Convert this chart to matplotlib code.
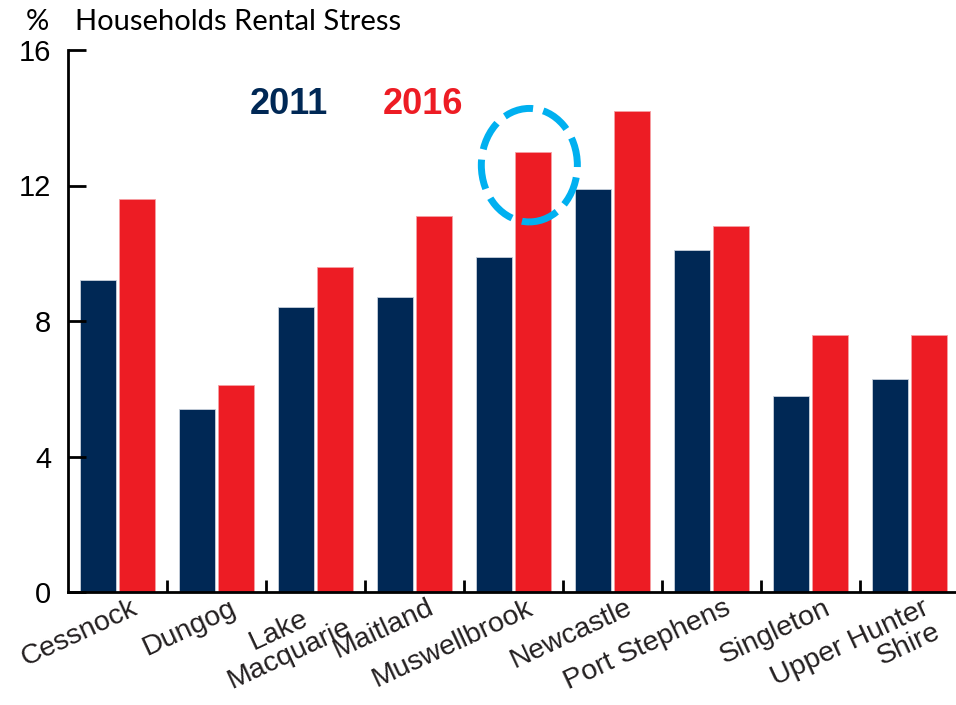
import matplotlib.pyplot as plt
from matplotlib.patches import Ellipse
from matplotlib.transforms import ScaledTranslation
import numpy as np

regions = ['Cessnock', 'Dungog', 'Lake\nMacquarie', 'Maitland', 'Muswellbrook',
           'Newcastle', 'Port Stephens', 'Singleton', 'Upper Hunter\nShire']
stress_2011 = [9.2, 5.4, 8.4, 8.7, 9.9, 11.9, 10.1, 5.8, 6.3]
stress_2016 = [11.6, 6.1, 9.6, 11.1, 13.0, 14.2, 10.8, 7.6, 7.6]
yticks = [0, 4, 8, 12, 16]

NAVY = '#002855'
RED = '#ED1C24'
CYAN = '#00B0F0'


def main():
    fig = plt.figure(figsize=(9.56, 7.05), dpi=100)
    ax = fig.add_axes([68 / 956, 113 / 705, 891 / 956, 542 / 705])

    x = np.arange(len(regions))
    ax.bar(x - 0.2, stress_2011, width=0.36, color=NAVY, edgecolor='#c8d0dc', linewidth=0.6)
    ax.bar(x + 0.2, stress_2016, width=0.36, color=RED, edgecolor='#f5a0a4', linewidth=0.6)

    ax.set_xlim(-0.5, len(regions) - 0.5)
    ax.set_ylim(0, 16)

    # y axis
    ax.set_yticks(yticks)
    ax.set_yticklabels([str(t) for t in yticks], fontsize=21, family='Liberation Sans')
    ax.tick_params(axis='y', direction='in', length=13, width=2, pad=12)

    # x axis: dividers between groups, labels at group centres
    ax.set_xticks(x[1:] - 0.5)
    ax.set_xticklabels([])
    ax.tick_params(axis='x', direction='in', length=9, width=2)
    ax.set_xticks(x, minor=True)
    ax.set_xticklabels(regions, minor=True, rotation=25, ha='right', va='top',
                       rotation_mode='anchor', fontsize=20.5, family='Liberation Sans',
                       multialignment='center', color='#231F20', linespacing=1.0)
    ax.tick_params(axis='x', which='minor', length=0, pad=2)
    offset = ScaledTranslation(9 / 72, 0, fig.dpi_scale_trans)
    labels = ax.get_xticklabels(minor=True)
    for lbl in labels:
        lbl.set_transform(lbl.get_transform() + offset)
    labels[2].set_transform(labels[2].get_transform()
                            + ScaledTranslation(4 / 72, 3 / 72, fig.dpi_scale_trans))
    labels[-1].set_multialignment('right')

    for side in ['top', 'right']:
        ax.spines[side].set_visible(False)
    ax.spines['left'].set_linewidth(2)
    ax.spines['bottom'].set_linewidth(2)

    # header text
    fig.text(26 / 956, 1 - 22 / 705, '%', fontsize=21, family='Lato', va='center')
    fig.text(75 / 956, 1 - 22 / 705, 'Households Rental Stress', fontsize=21,
             family='Lato', va='center')

    # legend-like labels
    ax.text(1.34, 14.4, '2011', color=NAVY, fontsize=26, fontweight='bold',
            family='Liberation Sans', va='center')
    ax.text(2.68, 14.4, '2016', color=RED, fontsize=26, fontweight='bold',
            family='Liberation Sans', va='center')

    # highlight circle round Muswellbrook 2016
    circ = Ellipse((4.16, 12.6), 0.97, 3.35, fill=False, edgecolor=CYAN,
                   linewidth=5, linestyle=(0, (4.3, 1.5)), clip_on=False)
    ax.add_patch(circ)

    fig.savefig('out.png', dpi=100)


if __name__ == '__main__':
    main()
